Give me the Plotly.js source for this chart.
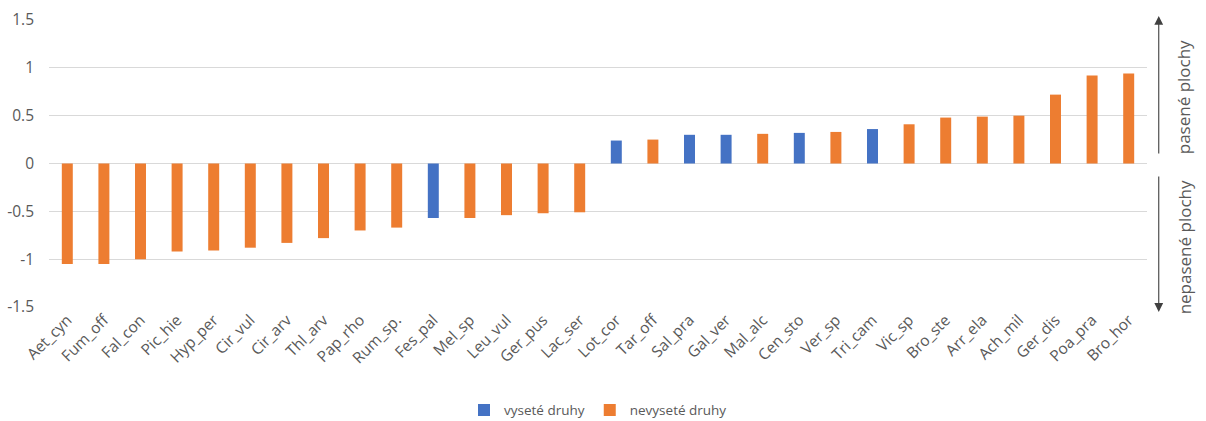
<!DOCTYPE html>
<html>
<head>
<meta charset="utf-8">
<script src="https://cdn.plot.ly/plotly-3.0.1.min.js"></script>
<style>
  html, body { margin: 0; padding: 0; background: #fff; }
  #chart { width: 1206px; height: 421px; }
</style>
</head>
<body>
<div id="chart"></div>
<script>
// Species codes along the x axis, ordered by score
const species = [
  "Aet_cyn", "Fum_off", "Fal_con", "Pic_hie", "Hyp_per", "Cir_vul", "Cir_arv",
  "Thl_arv", "Pap_rho", "Rum_sp.", "Fes_pal", "Mel_sp", "Leu_vul", "Ger_pus",
  "Lac_ser", "Lot_cor", "Tar_off", "Sal_pra", "Gal_ver", "Mal_alc", "Cen_sto",
  "Ver_sp", "Tri_cam", "Vic_sp", "Bro_ste", "Arr_ela", "Ach_mil", "Ger_dis",
  "Poa_pra", "Bro_hor"
];

// Score of each species (positive = grazed plots, negative = ungrazed plots)
const scores = [
  -1.05, -1.05, -1.00, -0.92, -0.91, -0.88, -0.83,
  -0.78, -0.70, -0.67, -0.57, -0.57, -0.54, -0.52,
  -0.51, 0.24, 0.25, 0.30, 0.30, 0.31, 0.32,
  0.33, 0.36, 0.41, 0.48, 0.49, 0.50, 0.72,
  0.92, 0.94
];

// Species that were sown
const sownSpecies = ["Fes_pal", "Lot_cor", "Sal_pra", "Gal_ver", "Cen_sto", "Tri_cam"];

const seriesNames = ["vyseté druhy", "nevyseté druhy"];
const sideLabels = ["pasené plochy", "nepasené plochy"];

const sownValues = species.map((s, i) => sownSpecies.includes(s) ? scores[i] : null);
const otherValues = species.map((s, i) => sownSpecies.includes(s) ? null : scores[i]);

const fontFamily = "'Open Sans', 'Noto Sans', sans-serif";
const textGray = "#595959";

const traces = [
  {
    type: "bar", name: seriesNames[0], x: species, y: sownValues,
    marker: { color: "#4472C4" }
  },
  {
    type: "bar", name: seriesNames[1], x: species, y: otherValues,
    marker: { color: "#ED7D31" }
  }
];

const layout = {
  width: 1206, height: 421,
  margin: { l: 49, r: 59, t: 20, b: 114, autoexpand: false },
  paper_bgcolor: "#fff", plot_bgcolor: "#fff",
  barmode: "relative",
  bargap: 0.7,
  font: { family: fontFamily, color: textGray, size: 13 },
  showlegend: true,
  legend: {
    orientation: "h", x: 0.5, xanchor: "center", y: -0.36, yanchor: "middle",
    font: { size: 13.5, color: textGray }, itemwidth: 30, traceorder: "normal"
  },
  xaxis: {
    type: "category", tickangle: -45, showgrid: false, showline: false,
    automargin: false,
    ticks: "", tickfont: { size: 15.5, color: textGray }, fixedrange: true
  },
  yaxis: {
    range: [-1.5, 1.5], tickvals: [-1.5, -1, -0.5, 0, 0.5, 1, 1.5],
    ticktext: ["-1.5", "-1", "-0.5", "0", "0.5", "1", "1.5"],
    showgrid: true, gridcolor: "#d9d9d9", gridwidth: 1,
    zeroline: true, zerolinecolor: "#d9d9d9", zerolinewidth: 1,
    showline: false, ticks: "", ticklabelstandoff: 14, automargin: false,
    tickfont: { size: 15.5, color: textGray }, fixedrange: true
  },
  annotations: [
    {
      xref: "paper", yref: "paper", x: 1.0107, y: 1.014,
      ax: 0, ay: 139, axref: "pixel", ayref: "pixel",
      showarrow: true, arrowhead: 2, arrowsize: 1.6, arrowwidth: 1.1,
      arrowcolor: "#404040", text: ""
    },
    {
      xref: "paper", yref: "paper", x: 1.0107, y: -0.017,
      ax: 0, ay: -137, axref: "pixel", ayref: "pixel",
      showarrow: true, arrowhead: 2, arrowsize: 1.6, arrowwidth: 1.1,
      arrowcolor: "#404040", text: ""
    },
    {
      xref: "paper", yref: "paper", x: 1.034, y: 0.732,
      xanchor: "center", yanchor: "middle", textangle: -90, showarrow: false,
      text: sideLabels[0], font: { size: 17, color: textGray, family: fontFamily }
    },
    {
      xref: "paper", yref: "paper", x: 1.034, y: 0.209,
      xanchor: "center", yanchor: "middle", textangle: -90, showarrow: false,
      text: sideLabels[1], font: { size: 17, color: textGray, family: fontFamily }
    }
  ]
};

Plotly.newPlot("chart", traces, layout, { displayModeBar: false, staticPlot: true });
</script>
</body>
</html>
